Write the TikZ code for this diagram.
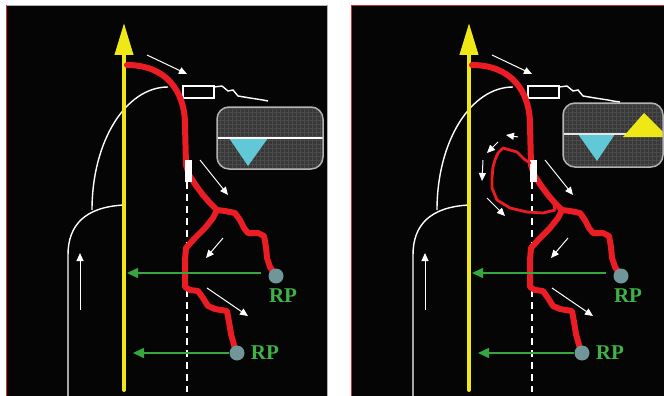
\documentclass[tikz,border=0pt]{standalone}
\usepackage{fontspec}
\setmainfont{Liberation Serif}
\usepackage{tikz}
\usetikzlibrary{arrows.meta,positioning}

\definecolor{panelblack}{RGB}{5,5,5}
\definecolor{axonyellow}{RGB}{238,232,22}
\definecolor{vesselred}{RGB}{234,28,36}
\definecolor{feedgreen}{RGB}{52,168,62}
\definecolor{labelgreen}{RGB}{62,178,72}
\definecolor{rpgray}{RGB}{112,150,154}
\definecolor{lumen}{RGB}{96,200,214}
\definecolor{insetgray}{RGB}{56,56,56}
\definecolor{insetgrid}{RGB}{74,74,74}
\definecolor{insetedge}{RGB}{178,178,178}
\definecolor{edgered}{RGB}{205,45,45}

\begin{document}
\begin{tikzpicture}[x=1pt,y=-1pt,%
  axon/.style={draw=axonyellow,line width=4pt,line cap=round,
    -{Triangle[length=32pt,width=18pt]}},
  vessel/.style={draw=vesselred,line width=6pt,line join=round,line cap=round},
  thinvessel/.style={draw=vesselred,line width=2.8pt,line join=round,line cap=round},
  contour/.style={draw=white,line width=1.4pt},
  flow/.style={draw=white,line width=1pt,-{Triangle[length=8pt,width=7pt]}},
  feed/.style={draw=feedgreen,line width=1.5pt,-{Triangle[length=11pt,width=10pt]}},
  rp/.style={circle,fill=rpgray,minimum size=15pt,inner sep=0pt},
  rplabel/.style={text=labelgreen,inner sep=0pt,
    font=\bfseries\fontsize{21}{21}\selectfont},
  inset/.style={draw=insetedge,line width=1.5pt,rounded corners=12pt}]
  \useasboundingbox (0,0) rectangle (664,396);
  \fill[white] (0,0) rectangle (664,396);

  % both panels share the same vessel tree
  \foreach \dx in {0,345}{
  \begin{scope}[xshift=\dx pt]
    \fill[panelblack] (6,5) rectangle (327,396);
    % outline and midline
    \draw[contour] (168,87) .. controls (126,87) and (92,141) .. (92,210);
    \draw[contour] (124,205) .. controls (85,207) and (68,225) .. (68,255) -- (68,396);
    \draw[contour,dash pattern=on 7pt off 5pt] (187,182) -- (187,392);
    \draw[contour] (183,86) rectangle (214,98);
    \draw[contour] (214,87) -- (222,86) -- (228,91) -- (233,90) -- (238,96)
      -- (250,98) -- (263,100) -- (268,101);
    % axon
    \coordinate (top\dx) at (124,23);
    \draw[axon] (124,390) -- (top\dx);
    % vessels
    \draw[vessel] (127,65) .. controls (165,65) and (185,90) .. (185,125)
      -- (186,165) -- (189,175) -- (197,187) -- (203,195) -- (210,203) -- (217,210)
      -- (225,211) -- (235,213) -- (240,220) -- (244,228) -- (248,233) -- (258,233)
      -- (264,236) -- (266,247) -- (267,258) -- (270,267) -- (276,276);
    \draw[vessel] (217,210) -- (213,218) -- (205,228) -- (195,238) -- (186,248)
      -- (185,260) -- (185,287) -- (190,290) -- (198,291) -- (203,298) -- (208,306)
      -- (215,309) -- (227,311) -- (229,322) -- (231,334) -- (234,345) -- (237,353);
    \fill[white] (185,160) rectangle (192,182);
    % flow
    \draw[flow] (147,55) -- (187,74);
    \draw[flow] (200,160) -- (228,195);
    \draw[flow] (223,238) -- (206,258);
    \draw[flow] (207,288) -- (248,316);
    \draw[flow] (80,310) -- (80,253);
    % release points
    \node[rp] (rpa\dx) at (276,276) {};
    \node[rp] (rpb\dx) at (237,353) {};
    \node[rplabel,below=5pt of rpa\dx,xshift=7pt] (rpatext\dx) {RP};
    \node[rplabel,right=6pt of rpb\dx] (rpbtext\dx) {RP};
    \coordinate (ya\dx) at (127,273);
    \coordinate (yb\dx) at (133,353);
    \draw[feed] ([xshift=-7pt,yshift=3pt]rpa\dx.west) -- (ya\dx);
    \draw[feed] (rpb\dx.west) -- (yb\dx);
  \end{scope}
  }
  \draw[gray!60,line width=0.8pt] (6,5) -- (327,5) -- (327,396);
  \draw[edgered,line width=0.8pt] (6,396) -- (6,5);
  \draw[edgered,line width=0.8pt] (351,396) -- (351,5) -- (664,5);

  % left inset
  \begin{scope}
    \clip[rounded corners=12pt] (217,107) rectangle (323,169);
    \fill[insetgray] (217,107) rectangle (323,169);
    \draw[insetgrid,line width=0.4pt] (217,169) grid[step=4pt] (323,107);
    \fill[lumen] (229,138) -- (268,138) -- (248,166) -- cycle;
    \draw[white,line width=2pt] (217,138) -- (323,138);
  \end{scope}
  \draw[inset] (217,107) rectangle (323,169);

  % right inset
  \begin{scope}
    \clip[rounded corners=12pt] (563,103) rectangle (663,167);
    \fill[insetgray] (563,103) rectangle (663,167);
    \draw[insetgrid,line width=0.4pt] (563,167) grid[step=4pt] (663,103);
    \fill[lumen] (578,134) -- (615,134) -- (597,161) -- cycle;
    \draw[white!80!gray,line width=1.6pt] (563,134) -- (663,134);
    \fill[axonyellow] (623,137) -- (668,137) -- (644,113) -- cycle;
  \end{scope}
  \draw[inset] (563,103) rectangle (663,167);
  \draw[contour] (613,101) -- (620,102);

  % recurrent loop
  \draw[thinvessel] (530,163) -- (524,159) -- (517,152) -- (510,150) -- (503,148)
    -- (498,153) -- (495,160) -- (493,167) -- (492,178) -- (492,188) -- (497,200)
    -- (510,208) -- (527,212) -- (543,213) -- (555,210) -- (553,200) -- (545,192)
    -- (538,184);
  \draw[flow] (518,137) -- (506,135);
  \draw[flow] (498,142) -- (487,153);
  \draw[flow] (483,160) -- (482,181);
  \draw[flow] (487,198) -- (505,216);
\end{tikzpicture}
\end{document}
